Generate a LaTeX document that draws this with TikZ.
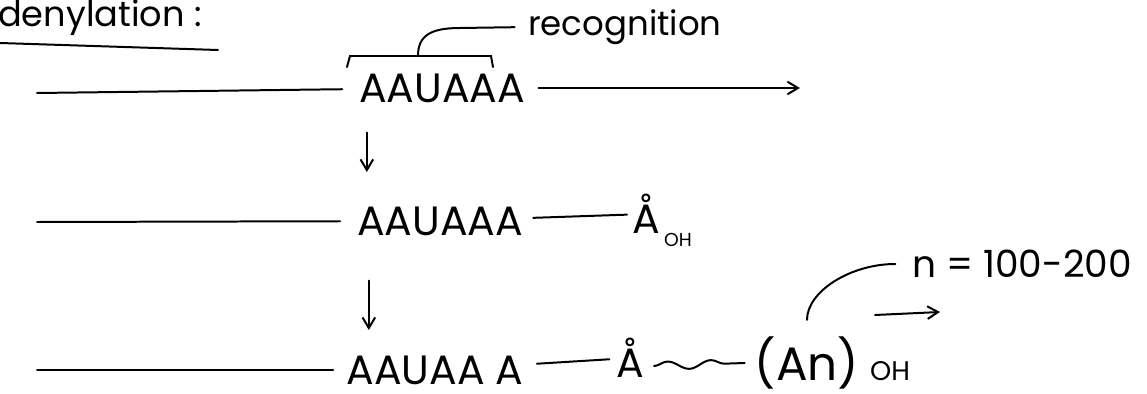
\documentclass[tikz,border=0pt]{standalone}
\usepackage{fontspec}
\setmainfont{Poppins}
\usepackage{tikz}
\usetikzlibrary{arrows.meta, positioning, decorations.pathmorphing}

\tikzset{
  strand/.style={line width=1.7pt, line cap=round},
  tip/.style={strand, -{Straight Barb[length=3.2mm, width=3.8mm]}},
  seq/.style={font=\fontsize{35}{40}\selectfont, inner sep=0pt},
  note/.style={font=\fontsize{29}{34}\selectfont, inner sep=0pt},
  sub/.style={font=\fontsize{16}{18}\selectfont, inner sep=0pt}
}

\begin{document}
\begin{tikzpicture}[x=0.03cm, y=-0.03cm]
\useasboundingbox (0,0) rectangle (1147,394);

% heading
\node[note, font=\fontsize{30}{34}\selectfont, anchor=base west] (title) at (-2,27) {denylation :};
\draw[strand] (0,43) -- (218,50);

% the three stages of the transcript
\node[seq] (s1) at (442,88) {AAUAAA};
\node[seq] (s2) at (440,221) {AAUAAA};
\node[seq] (s3) at (435,370) {AAUAA A};

\coordinate (l1) at (37,93);
\coordinate (l2) at (37,222);
\coordinate (l3) at (37,370);
\coordinate (r1) at (800,88);

\draw[strand, shorten >=5mm] (l1) -- (s1);
\draw[tip, shorten <=4mm] (s1) -- (r1);
\draw[strand, shorten >=5mm] (l2) -- (s2);
\draw[strand, shorten >=4mm] (l3) -- (s3);

% recognition bracket
\node[note, anchor=west] (rec) at (528,27) {recognition};
\draw[strand] (347,67) -- (350,56) -- (491,56) -- (493,67);
\draw[strand, shorten >=4mm] (418,56) .. controls (418,36) and (430,28) .. (460,28) -- (rec.west);

% cleavage
\draw[tip, shorten <=9mm] ([xshift=2.4mm]s1.south west) -- ([xshift=2.4mm]s1.south west |- 0,172);
\node[seq] (a2) at (646,214) {Å};
\node[sub, anchor=west] (oh2) at (664,240) {OH};
\draw[strand, shorten <=3mm, shorten >=1.5mm] (s2) -- (a2);

% poly(A) addition
\draw[tip, shorten <=13.5mm] ([xshift=3.6mm]s2.south west) -- ([xshift=3.6mm]s2.south west |- 0,330);
\node[seq] (a3) at (630,358) {Å};
\draw[strand, shorten <=4mm, shorten >=2mm] (s3) -- (a3);
\node[seq, font=\fontsize{40}{46}\selectfont] (an) at (807,363) {(An)};
\node[font=\fontsize{23}{26}\selectfont, inner sep=0pt, anchor=west] (oh3) at (870,371) {OH};
\draw[strand, decorate, decoration={snake, segment length=1.3cm, amplitude=1.2mm}]
  ([xshift=3mm]a3.east |- 0,366) -- ([xshift=-3mm]an.west);

% tail length
\node[note, font=\fontsize{32}{36}\selectfont, anchor=west] (len) at (912,264) {n = 100-200};
\draw[strand, shorten <=5mm] (an.north) .. controls +(0,-45) and +(-45,0) .. ([xshift=-5mm]len.west);
\coordinate (e1) at (875,315);
\coordinate (e2) at (940,312);
\draw[tip] (e1) -- (e2);
\end{tikzpicture}
\end{document}
